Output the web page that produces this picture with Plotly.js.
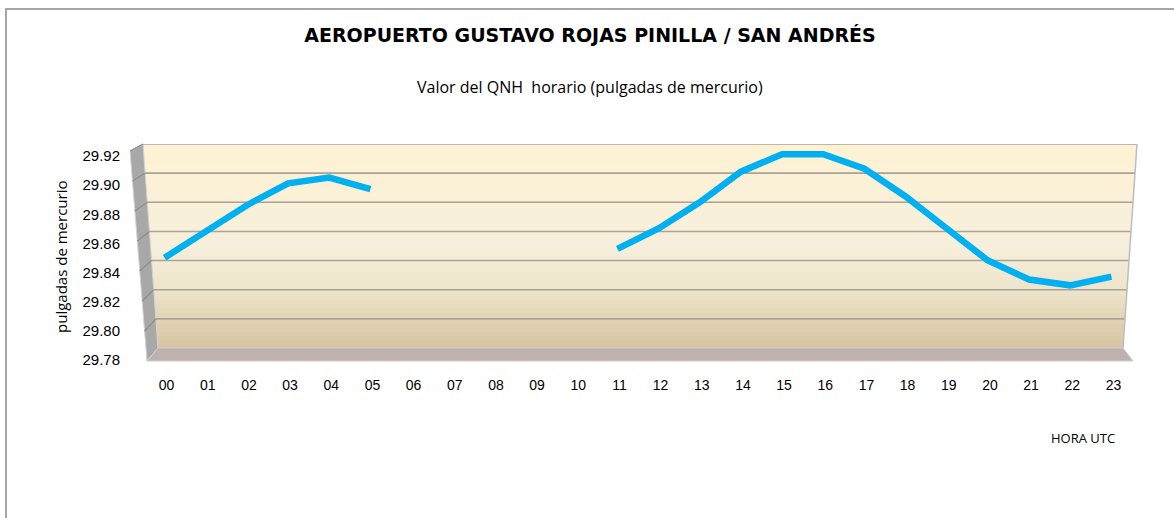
<!DOCTYPE html>
<html>
<head>
<meta charset="utf-8">
<script src="https://cdn.plot.ly/plotly-3.0.1.min.js"></script>
<style>
  html, body { margin: 0; padding: 0; background: #ffffff; }
  #chart { width: 1174px; height: 518px; }
</style>
</head>
<body>
<div id="chart"></div>
<script>
// ---- Data ----
const horas = ['00','01','02','03','04','05','06','07','08','09','10','11',
               '12','13','14','15','16','17','18','19','20','21','22','23'];
const qnh = [29.842, 29.860, 29.878, 29.893, 29.897, 29.889,
             null, null, null, null, null,
             29.848, 29.862, 29.880, 29.901, 29.913, 29.913, 29.903,
             29.884, 29.862, 29.840, 29.827, 29.823, 29.829];
const yTicks = [29.78, 29.80, 29.82, 29.84, 29.86, 29.88, 29.90, 29.92];
const yTickText = ['29.78','29.80','29.82','29.84','29.86','29.88','29.90','29.92'];

const tituloTexto = 'AEROPUERTO GUSTAVO ROJAS PINILLA / SAN ANDRÉS';
const subtituloTexto = 'Valor del QNH&nbsp;&nbsp;horario (pulgadas de mercurio)';
const ejeYTexto = 'pulgadas de mercurio';
const ejeXTexto = 'HORA UTC';

// ---- Geometry (decoration) ----
const W = 1174, H = 518;
const M = { l: 144, r: 42, t: 144, b: 170 };
const PW = W - M.l - M.r, PH = H - M.t - M.b;
const yMin = 29.78, yMax = 29.92;
const px2x = px => (px - M.l) / PW;
const py2y = py => (H - M.b - py) / PH;
const wallTop = M.t, wallBot = H - M.b;
const leftEdge = py => 143 + (py - wallTop) / (wallBot - wallTop) * 15;
const rightEdge = py => 1137 - (py - wallTop) / (wallBot - wallTop) * 14;
const val2py = v => wallBot - (v - yMin) / (yMax - yMin) * PH;

function lerpColor(a, b, t) {
  const pa = [1,3,5].map(i => parseInt(a.substr(i,2),16));
  const pb = [1,3,5].map(i => parseInt(b.substr(i,2),16));
  const c = pa.map((v,i) => Math.round(v + (pb[i]-v)*t));
  return 'rgb(' + c.join(',') + ')';
}
const stops = [[0,'#FFF2D4'],[0.5,'#F6EFDB'],[0.72,'#EDE4CB'],[1,'#D6C59F']];
function gradColor(t) {
  for (let i = 0; i < stops.length - 1; i++) {
    if (t <= stops[i+1][0]) {
      const f = (t - stops[i][0]) / (stops[i+1][0] - stops[i][0]);
      return lerpColor(stops[i][1], stops[i+1][1], f);
    }
  }
  return stops[stops.length-1][1];
}

const shapes = [];
// wall gradient bands (trapezoid)
const N = 51;
for (let i = 0; i < N; i++) {
  const y0 = wallTop + (wallBot - wallTop) * i / N;
  const y1 = wallTop + (wallBot - wallTop) * (i + 1) / N + 0.6;
  const path = 'M ' + px2x(leftEdge(y0)) + ' ' + py2y(y0) +
               ' L ' + px2x(rightEdge(y0)) + ' ' + py2y(y0) +
               ' L ' + px2x(rightEdge(y1)) + ' ' + py2y(y1) +
               ' L ' + px2x(leftEdge(y1)) + ' ' + py2y(y1) + ' Z';
  shapes.push({ type: 'path', xref: 'paper', yref: 'paper', path: path,
    fillcolor: gradColor((i + 0.5) / N), line: { width: 0 }, layer: 'below' });
}
// side wall
shapes.push({ type: 'path', xref: 'paper', yref: 'paper', layer: 'below',
  path: 'M ' + px2x(130) + ' ' + py2y(151) + ' L ' + px2x(143) + ' ' + py2y(144) +
        ' L ' + px2x(158) + ' ' + py2y(348) + ' L ' + px2x(147) + ' ' + py2y(361) + ' Z',
  fillcolor: '#A8A8A8', line: { color: '#D2D2D2', width: 1 } });
// floor
shapes.push({ type: 'path', xref: 'paper', yref: 'paper', layer: 'below',
  path: 'M ' + px2x(158) + ' ' + py2y(348) + ' L ' + px2x(1123) + ' ' + py2y(348) +
        ' L ' + px2x(1133) + ' ' + py2y(361) + ' L ' + px2x(147) + ' ' + py2y(361) + ' Z',
  fillcolor: '#BDB2AE', line: { color: '#D4CCC9', width: 1 } });
// gridlines on back wall and side wall
yTicks.forEach(v => {
  const py = val2py(v);
  if (v > yMin) {
    shapes.push({ type: 'line', xref: 'paper', yref: 'y', layer: 'below',
      x0: px2x(leftEdge(py)), x1: px2x(rightEdge(py)), y0: v, y1: v,
      line: { color: '#A8A297', width: 1.6 } });
    const t = (py - wallTop) / (wallBot - wallTop);
    const dx = -13 + 2 * t, dy = 7 + 6 * t;
    shapes.push({ type: 'line', xref: 'paper', yref: 'paper', layer: 'below',
      x0: px2x(leftEdge(py)), y0: py2y(py), x1: px2x(leftEdge(py) + dx), y1: py2y(py + dy),
      line: { color: '#8E8E8E', width: 1.2 } });
  }
});
// right wall edge
shapes.push({ type: 'line', xref: 'paper', yref: 'paper', layer: 'below',
  x0: px2x(1137), y0: py2y(144), x1: px2x(1123), y1: py2y(348),
  line: { color: '#BDBDBD', width: 1.5 } });
// chart border
shapes.push({ type: 'rect', xref: 'paper', yref: 'paper', layer: 'above',
  x0: px2x(6), y0: py2y(9), x1: px2x(1180), y1: py2y(530),
  line: { color: '#A6A6A6', width: 2 }, fillcolor: 'rgba(0,0,0,0)' });

const trace = {
  type: 'scatter', mode: 'lines', x: horas, y: qnh,
  connectgaps: false,
  line: { color: '#00B0F0', width: 6.5 },
  hoverinfo: 'x+y'
};

const fontTxt = 'Liberation Sans, Arial, sans-serif';
const fontCal = 'Open Sans, Liberation Sans, sans-serif';
const layout = {
  width: W, height: H,
  margin: M,
  paper_bgcolor: '#ffffff', plot_bgcolor: 'rgba(0,0,0,0)',
  showlegend: false,
  title: {
    text: '<b>' + tituloTexto + '</b>',
    font: { family: 'DejaVu Sans, sans-serif', size: 19, color: '#000000' },
    xref: 'container', x: 590 / W, xanchor: 'center',
    yref: 'container', y: 1 - 35 / H, yanchor: 'middle'
  },
  xaxis: {
    type: 'category', range: [-0.5, 23.5],
    showgrid: false, zeroline: false, showline: false, ticks: '',
    tickfont: { family: fontTxt, size: 14, color: '#000000' },
    ticklabelstandoff: 27, ticklabelshift: 2,
    fixedrange: true
  },
  yaxis: {
    range: [yMin, yMax], tickvals: yTicks, ticktext: yTickText,
    showgrid: false, zeroline: false, showline: false, ticks: '',
    tickfont: { family: fontTxt, size: 15, color: '#000000' },
    ticklabelstandoff: 23, ticklabelshift: 12,
    fixedrange: true
  },
  shapes: shapes,
  annotations: [
    { text: subtituloTexto, xref: 'paper', yref: 'paper',
      x: px2x(590), y: py2y(87), xanchor: 'center', yanchor: 'middle',
      showarrow: false, font: { family: fontCal, size: 16, color: '#000000' } },
    { text: ejeYTexto, xref: 'paper', yref: 'paper', textangle: -90,
      x: px2x(61), y: py2y(257), xanchor: 'center', yanchor: 'middle',
      showarrow: false, font: { family: fontCal, size: 15, color: '#000000' } },
    { text: ejeXTexto, xref: 'paper', yref: 'paper',
      x: px2x(1083), y: py2y(438), xanchor: 'center', yanchor: 'middle',
      showarrow: false, font: { family: fontCal, size: 13, color: '#000000' } }
  ]
};

Plotly.newPlot('chart', [trace], layout, { displayModeBar: false, staticPlot: true });
</script>
</body>
</html>
